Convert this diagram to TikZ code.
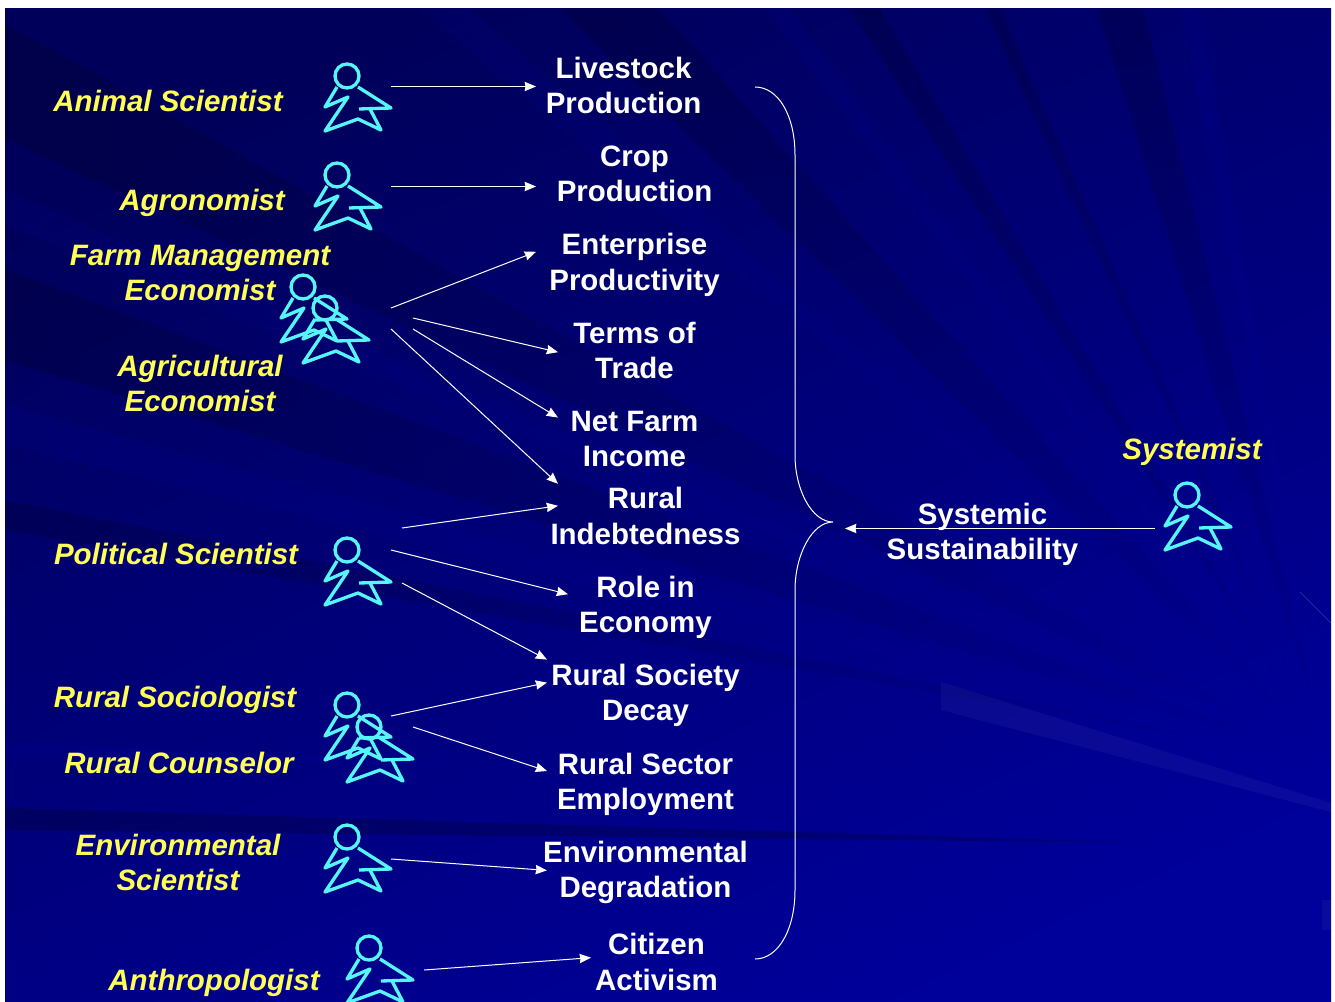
\documentclass[tikz,border=0pt]{standalone}
\usepackage{fontspec}
\setmainfont{Liberation Sans}
\usepackage{tikz}
\usetikzlibrary{arrows.meta, fadings}
\definecolor{slideDark}{HTML}{00005A}
\definecolor{slideMid}{HTML}{000086}
\definecolor{slideBlue}{HTML}{00009A}
\definecolor{actorCyan}{HTML}{55F5FA}
\definecolor{roleYellow}{HTML}{FFFF55}
\tikzstyle{topic} = [align=center, inner sep=0pt, text depth=0pt, text=white, font=\fontsize{22.1}{26.5}\selectfont\bfseries]
\tikzstyle{role} = [align=center, inner sep=0pt, text depth=0pt, text=roleYellow, font=\fontsize{22.1}{26.5}\selectfont\bfseries\itshape]
\tikzstyle{actorhead} = [circle, draw=actorCyan, line width=2.5pt, minimum size=18pt, inner sep=0pt]
\tikzstyle{actorline} = [draw=actorCyan, line width=2.5pt, line join=round]
\tikzstyle{arrow} = [white, line width=0.75pt, ->, >={Stealth[length=8.5pt, width=7pt, inset=0.6pt]}]
\tikzstyle{raydark} = [black, fill opacity=0.17]
\tikzstyle{raylight} = [blue, fill opacity=0.06]
\newcommand{\actor}[3]{
\node (#1) [actorhead] at (#2,#3) {};
\draw [actorline, shift={(#2,#3)}] (-10,11) -- (-22,31) -- (1,21) -- (-22,55) -- (11,43) -- (34,54) -- (23,33);
\draw [actorline, shift={(#2,#3)}] (12,33) -- (44,32) -- (11,11);
}

\begin{document}
\begin{tikzpicture}[x=0.75pt, y=-0.75pt, node distance=66.3pt]
\useasboundingbox (0,0) rectangle (1335,1002);
\fill [white] (0,0) rectangle (1335,1002);
% background
\begin{scope}
\clip (5,9) rectangle (1331,1002);
\shade [shading=axis, bottom color=slideDark, middle color=slideMid, top color=slideBlue, shading angle=205] (5,9) rectangle (1331,1002);
% rays from the left side
\foreach \ay/\by in {24/138, 269/360, 500/530}
  \fill [raydark, path fading=east] (1330,762) -- (5,\ay) -- (5,\by) -- cycle;
\foreach \ay/\by in {405/445, 190/225}
  \fill [raylight, path fading=east] (1330,762) -- (5,\ay) -- (5,\by) -- cycle;
% rays from the top side
\foreach \ax/\bx in {1097/1143, 985/1000, 850/880, 560/660}
  \fill [raydark, path fading=south] (1330,762) -- (\ax,9) -- (\bx,9) -- cycle;
\foreach \ax/\bx in {765/790, 1180/1200, 420/470}
  \fill [raylight, path fading=south] (1330,762) -- (\ax,9) -- (\bx,9) -- cycle;
\fill [black, fill opacity=0.2] (5,808) -- (5,830) -- (1160,843) -- cycle;
\fill [blue, fill opacity=0.06] (5,742) -- (5,757) -- (500,765) -- cycle;
\fill [white, fill opacity=0.04] (941,682) -- (1331,803) -- (1331,812) -- (941,710) -- cycle;
\fill [white, fill opacity=0.04] (1322,900) rectangle (1331,930);
\draw [white, opacity=0.2, line width=0.5pt] (1300,592) -- (1331,623);
\end{scope}
% specialists
\actor{aAnimal}{347}{76}
\actor{aAgronomist}{337}{175}
\actor{aFarm}{303}{287}
\actor{aEcon}{325}{308}
\actor{aPolitical}{347}{550}
\actor{aSociologist}{347}{705}
\actor{aCounselor}{369}{727}
\actor{aEnviron}{347}{837}
\actor{aAnthro}{369}{948}
\actor{aSystemist}{1187}{495}
\node (rAnimal) [role] at (168,101) {Animal Scientist};
\node (rAgronomist) [role] at (202,200) {Agronomist};
\node (rFarm) [role] at (200,273) {Farm Management\\Economist};
\node (rEcon) [role] at (200,383) {Agricultural\\Economist};
\node (rPolitical) [role] at (176,554) {Political Scientist};
\node (rSociologist) [role] at (175,697) {Rural Sociologist};
\node (rCounselor) [role] at (179,763) {Rural Counselor};
\node (rEnviron) [role] at (178,862) {Environmental\\Scientist};
\node (rAnthro) [role] at (214,980) {Anthropologist};
\node (rSystemist) [role] at (1192,449) {Systemist};
% sustainability topics
\node (tLivestock) [topic] at (623.5,85) {Livestock\\Production};
\node (tCrop) [topic, below of = tLivestock, xshift = 8.25pt] {Crop\\Production};
\node (tEnterprise) [topic, below of = tCrop] {Enterprise\\Productivity};
\node (tTerms) [topic, below of = tEnterprise] {Terms of\\Trade};
\node (tIncome) [topic, below of = tTerms] {Net Farm\\Income};
\node (tDebt) [topic, below of = tIncome, xshift = 8.25pt, yshift = 8.4pt] {Rural\\Indebtedness};
\node (tRole) [topic, below of = tDebt] {Role in\\Economy};
\node (tSociety) [topic, below of = tRole] {Rural Society\\Decay};
\node (tSector) [topic, below of = tSociety] {Rural Sector\\Employment};
\node (tDegrade) [topic, below of = tSector] {Environmental\\Degradation};
\node (tCitizen) [topic, below of = tDegrade, xshift = 8.25pt, yshift = -2.9pt] {Citizen\\Activism};
\node (tSystemic) [topic] at (982.5,531) {Systemic\\Sustainability};
% brace
\coordinate (braceTop) at (755,87);
\coordinate (braceTip) at (833,522);
\coordinate (braceEnd) at (755,959);
\draw [white, line width=0.75pt] (braceTop) .. controls (778,87) and (795,115) .. (795,155) -- (795,455) .. controls (795,490) and (812,522) .. (braceTip) .. controls (812,522) and (795,555) .. (795,590) -- (795,890) .. controls (795,930) and (778,959) .. (braceEnd);
% arrows
\draw [arrow] ([shift={(44,10.5)}]aAnimal.center) -- ([shift={(-87.5,1.5)}]tLivestock.center);
\draw [arrow] ([shift={(54,11.5)}]aAgronomist.center) -- ([shift={(-98.5,13.1)}]tCrop.center);
\draw [arrow] ([shift={(66,0)}]aEcon.center) -- ([shift={(-98.5,-10)}]tEnterprise.center);
\draw [arrow] ([shift={(88,10)}]aEcon.center) -- ([shift={(-76.5,2)}]tTerms.center);
\draw [arrow] ([shift={(88,21)}]aEcon.center) -- ([shift={(-76.5,-21)}]tIncome.center);
\draw [arrow] ([shift={(66,21)}]aEcon.center) -- ([shift={(-87.5,-32)}]tDebt.center);
\draw [arrow] ([shift={(55,-22)}]aPolitical.center) -- ([shift={(-87.5,-10)}]tDebt.center);
\draw [arrow] ([shift={(44,0)}]aPolitical.center) -- ([shift={(-77.5,-10)}]tRole.center);
\draw [arrow] ([shift={(55,33)}]aPolitical.center) -- ([shift={(-98.5,-33)}]tSociety.center);
\draw [arrow] ([shift={(44,11)}]aSociologist.center) -- ([shift={(-98.5,-10)}]tSociety.center);
\draw [arrow] ([shift={(44,0)}]aCounselor.center) -- ([shift={(-98.5,-10)}]tSector.center);
\draw [arrow] ([shift={(44,22)}]aEnviron.center) -- ([shift={(-98.5,1)}]tDegrade.center);
\draw [arrow] ([shift={(55,22)}]aAnthro.center) -- ([shift={(-65.5,-4)}]tCitizen.center);
\draw [arrow] ([shift={(-32,33.5)}]aSystemist.center) -- ([shift={(12,6.5)}]braceTip);
\end{tikzpicture}
\end{document}
